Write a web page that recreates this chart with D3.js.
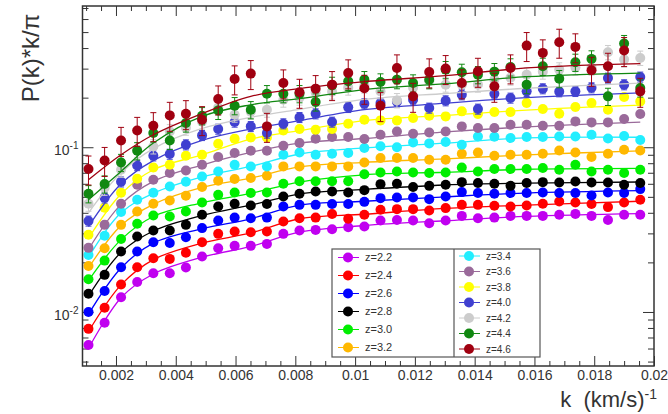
<!DOCTYPE html>
<html>
<head>
<meta charset="utf-8">
<script src="https://cdn.jsdelivr.net/npm/d3@7"></script>
<style>
body { margin: 0; background: #fff; }
text { font-family: "Liberation Sans", Arial, sans-serif; fill: #333; }
</style>
</head>
<body>
<svg id="chart" width="668" height="414"></svg>
<script>
// k bins (km/s)^-1
var kVals = [0.00108,0.00162,0.00217,0.00271,0.00325,0.00380,0.00434,0.00488,0.00542,0.00597,
             0.00651,0.00705,0.00760,0.00814,0.00868,0.00923,0.00977,0.01031,0.01085,0.01140,
             0.01194,0.01248,0.01303,0.01357,0.01411,0.01466,0.01520,0.01574,0.01628,0.01683,
             0.01737,0.01791,0.01846,0.01900,0.01954];

var zLabels = ['z=2.2','z=2.4','z=2.6','z=2.8','z=3.0','z=3.2','z=3.4','z=3.6','z=3.8','z=4.0','z=4.2','z=4.4','z=4.6'];
var colors  = ['#c000f0','#ff0000','#0000ff','#000000','#00ee00','#ffb800','#22eeff','#9a6a9a','#ffff00','#4040d0','#cccccc','#118811','#a00010'];

// P(k)*k/pi, one array per redshift
var p22 = [0.0063,0.0086,0.0123,0.0152,0.0172,0.0172,0.0186,0.0217,0.0244,0.0252,0.0252,0.0259,0.0298,0.0312,0.0315,0.0318,0.0327,0.0330,0.0359,0.0362,0.0359,0.0346,0.0359,0.0383,0.0371,0.0374,0.0383,0.0383,0.0383,0.0389,0.0394,0.0383,0.0362,0.0389,0.0389];
var p24 = [0.0079,0.0106,0.0147,0.0187,0.0212,0.0210,0.0229,0.0265,0.0298,0.0308,0.0305,0.0308,0.0354,0.0371,0.0374,0.0393,0.0368,0.0389,0.0417,0.0421,0.0421,0.0413,0.0427,0.0447,0.0447,0.0441,0.0437,0.0443,0.0454,0.0468,0.0462,0.0452,0.0433,0.0462,0.0480];
var p26 = [0.0100,0.0134,0.0187,0.0233,0.0265,0.0262,0.0284,0.0323,0.0359,0.0374,0.0371,0.0374,0.0437,0.0447,0.0447,0.0452,0.0452,0.0466,0.0491,0.0495,0.0495,0.0484,0.0502,0.0534,0.0527,0.0522,0.0527,0.0527,0.0531,0.0527,0.0527,0.0509,0.0531,0.0527,0.0557];
var p28 = [0.0129,0.0168,0.0233,0.0287,0.0312,0.0312,0.0338,0.0389,0.0437,0.0454,0.0443,0.0452,0.0502,0.0522,0.0539,0.0539,0.0531,0.0549,0.0597,0.0600,0.0573,0.0583,0.0592,0.0614,0.0606,0.0600,0.0583,0.0606,0.0614,0.0611,0.0620,0.0611,0.0611,0.0592,0.0606];
var p30 = [0.0158,0.0205,0.0277,0.0343,0.0385,0.0380,0.0407,0.0462,0.0514,0.0531,0.0527,0.0531,0.0600,0.0621,0.0621,0.0621,0.0621,0.0685,0.0703,0.0713,0.0703,0.0697,0.0703,0.0754,0.0713,0.0737,0.0737,0.0737,0.0748,0.0730,0.0783,0.0713,0.0730,0.0697,0.0730];
var p32 = [0.0190,0.0244,0.0338,0.0407,0.0454,0.0475,0.0507,0.0573,0.0626,0.0641,0.0650,0.0671,0.0765,0.0765,0.0765,0.0765,0.0765,0.0807,0.0860,0.0860,0.0860,0.0840,0.0840,0.0913,0.0930,0.0888,0.0900,0.0900,0.0913,0.0956,0.0930,0.0872,0.0913,0.0966,0.0956];
var p34 = [0.0222,0.0290,0.0404,0.0480,0.0529,0.0578,0.0617,0.0665,0.0713,0.0783,0.0764,0.0764,0.0900,0.0930,0.0900,0.0913,0.0922,0.0989,0.1014,0.1000,0.1070,0.1055,0.1077,0.1036,0.1163,0.1158,0.1137,0.1153,0.1153,0.1163,0.1163,0.1191,0.1129,0.1170,0.1106];
var p36 = [0.0245,0.0338,0.0454,0.0592,0.0635,0.0697,0.0723,0.0783,0.0872,0.0922,0.0952,0.0952,0.1021,0.1060,0.1126,0.1153,0.1153,0.1122,0.1191,0.1247,0.1208,0.1230,0.1247,0.1338,0.1308,0.1308,0.1370,0.1370,0.1351,0.1351,0.1435,0.1415,0.1415,0.1484,0.1591];
var p38 = [0.0294,0.0429,0.0529,0.0644,0.0754,0.0783,0.0888,0.0900,0.1050,0.1126,0.1147,0.1147,0.1265,0.1290,0.1278,0.1290,0.1390,0.1470,0.1455,0.1455,0.1505,0.1554,0.1539,0.1651,0.1591,0.1637,0.1637,0.1857,0.1707,0.1598,0.1755,0.1857,0.1690,0.2020,0.1898];
var p40 = [0.0357,0.0493,0.0617,0.0775,0.0888,0.0909,0.1036,0.1180,0.1290,0.1423,0.1338,0.1220,0.1390,0.1518,0.1598,0.1423,0.1746,0.1838,0.1857,0.1890,0.1944,0.1731,0.1917,0.2085,0.1707,0.2114,0.1991,0.2184,0.2268,0.2175,0.2184,0.2300,0.2634,0.2399,0.2672];
var p42 = [0.0454,0.0567,0.0730,0.0966,0.1011,0.1247,0.1314,0.1429,0.1739,0.1576,0.1644,0.1690,0.1944,0.2000,0.2145,0.2175,0.2300,0.2365,0.2184,0.1925,0.2300,0.2512,0.2399,0.2399,0.2399,0.2572,0.2645,0.2758,0.2877,0.2959,0.3043,0.3043,0.3770,0.3404,0.3485];
var p44 = [0.0522,0.0598,0.0808,0.0952,0.1220,0.1100,0.1403,0.1554,0.1674,0.1788,0.1690,0.2114,0.2114,0.2114,0.1883,0.2375,0.2512,0.2572,0.2491,0.2572,0.2456,0.2572,0.2959,0.2849,0.2758,0.2877,0.3073,0.2399,0.3099,0.2609,0.3278,0.3437,0.2036,0.4258,0.2290];
var p46 = [0.0737,0.0831,0.1100,0.1265,0.1351,0.1561,0.1598,0.1470,0.1963,0.2598,0.2798,0.1338,0.2456,0.2154,0.2268,0.2399,0.2826,0.2278,0.1788,0.3030,0.2036,0.2865,0.3001,0.2456,0.2889,0.2342,0.3030,0.4140,0.3738,0.4336,0.4066,0.2930,0.3099,0.3861,0.2184];

// relative error per redshift
var errFrac = [0.03,0.03,0.03,0.03,0.035,0.035,0.04,0.045,0.05,0.07,0.10,0.12,0.20];

// fitted model curves, read at a few k
var fitK = [0.00108,0.00217,0.00325,0.00488,0.00651,0.00814,0.01031,0.01303,0.01574,0.01954];
var f22 = [0.0060,0.0122,0.0170,0.0215,0.0250,0.0305,0.0335,0.0358,0.0380,0.0395];
var f24 = [0.0076,0.0146,0.0208,0.0262,0.0302,0.0368,0.0392,0.0425,0.0445,0.0470];
var f26 = [0.0097,0.0185,0.0262,0.0320,0.0368,0.0445,0.0470,0.0500,0.0527,0.0545];
var f28 = [0.0125,0.0230,0.0310,0.0385,0.0445,0.0520,0.0555,0.0590,0.0605,0.0615];
var f30 = [0.0155,0.0275,0.0380,0.0460,0.0525,0.0615,0.0680,0.0705,0.0735,0.0745];
var f32 = [0.0185,0.0335,0.0450,0.0570,0.0650,0.0760,0.0810,0.0850,0.0900,0.0950];
var f34 = [0.0215,0.0400,0.0525,0.0660,0.0765,0.0910,0.0990,0.1060,0.1140,0.1150];
var f36 = [0.0240,0.0450,0.0620,0.0780,0.0930,0.1060,0.1130,0.1240,0.1330,0.1420];
var f38 = [0.0280,0.0520,0.0730,0.0900,0.1120,0.1260,0.1450,0.1560,0.1680,0.1800];
var f40 = [0.0330,0.0600,0.0830,0.1100,0.1290,0.1450,0.1690,0.1850,0.2000,0.2140];
var f42 = [0.0400,0.0700,0.0980,0.1300,0.1520,0.1700,0.1950,0.2120,0.2280,0.2450];
var f44 = [0.0480,0.0713,0.1060,0.1540,0.1810,0.1970,0.2240,0.2430,0.2680,0.2820];
var f46 = [0.0635,0.0900,0.1190,0.1600,0.2036,0.2270,0.2500,0.2720,0.3030,0.3220];

var xMajor = [0.002,0.004,0.006,0.008,0.01,0.012,0.014,0.016,0.018,0.02];
var xLabels = ['0.002','0.004','0.006','0.008','0.01','0.012','0.014','0.016','0.018','0.02'];
var xMinor = [0.001,0.0015,0.0025,0.003,0.0035,0.0045,0.005,0.0055,0.0065,0.007,0.0075,0.0085,0.009,0.0095,
              0.0105,0.011,0.0115,0.0125,0.013,0.0135,0.0145,0.015,0.0155,0.0165,0.017,0.0175,0.0185,0.019,0.0195];
var yMajor = [0.01, 0.1];
var yMinor = [0.005,0.006,0.007,0.008,0.009,0.02,0.03,0.04,0.05,0.06,0.07,0.08,0.09,0.2,0.3,0.4,0.5,0.6,0.7];

var points = [p22,p24,p26,p28,p30,p32,p34,p36,p38,p40,p42,p44,p46];
var fits   = [f22,f24,f26,f28,f30,f32,f34,f36,f38,f40,f42,f44,f46];

var series = zLabels.map(function(z, i){
    return {label: z, color: colors[i], err: errFrac[i],
            pts: points[i].map(function(v, j){ return {k: kVals[j], v: v}; }),
            fit: fits[i].map(function(v, j){ return {k: fitK[j], v: v}; })};
});

var svg = d3.select('#chart');
var x = d3.scaleLinear().domain([0.00088, 0.02]).range([82.5, 654]);
var y = d3.scaleLog().domain([0.0047, 0.72]).range([366, 6]);

// axes, ticks pointing inwards on all four sides
var axes = svg.append('g').attr('class', 'axes');
axes.append('g').attr('transform', 'translate(0,366)')
    .call(d3.axisBottom(x).tickValues(xMajor).tickSize(-10).tickPadding(4)
          .tickFormat(function(d, i){ return xLabels[i]; }))
    .attr('class', 'x_axis');
axes.append('g').attr('transform', 'translate(0,366)')
    .call(d3.axisBottom(x).tickValues(xMinor).tickSize(-5).tickFormat(''));
axes.append('g').attr('transform', 'translate(0,6)')
    .call(d3.axisTop(x).tickValues(xMajor).tickSize(-10).tickFormat(''));
axes.append('g').attr('transform', 'translate(0,6)')
    .call(d3.axisTop(x).tickValues(xMinor).tickSize(-5).tickFormat(''));
axes.append('g').attr('transform', 'translate(82.5,0)')
    .call(d3.axisLeft(y).tickValues(yMajor).tickSize(-11).tickPadding(4))
    .attr('class', 'y_axis');
axes.append('g').attr('transform', 'translate(82.5,0)')
    .call(d3.axisLeft(y).tickValues(yMinor).tickSize(-6).tickFormat(''));
axes.append('g').attr('transform', 'translate(654,0)')
    .call(d3.axisRight(y).tickValues(yMajor).tickSize(-11).tickFormat(''));
axes.append('g').attr('transform', 'translate(654,0)')
    .call(d3.axisRight(y).tickValues(yMinor).tickSize(-6).tickFormat(''));
axes.selectAll('.domain').remove();
axes.selectAll('.tick line').attr('stroke', '#333').attr('stroke-width', 1);
axes.selectAll('.x_axis .tick text').style('font-size', '14px').attr('fill', '#333');
axes.selectAll('.y_axis .tick text').each(function(d){
    var t = d3.select(this).text(null).attr('dy', '0.55em').style('font-size', '14px').attr('fill', '#333');
    t.append('tspan').text('10');
    t.append('tspan').attr('dy', '-0.65em').style('font-size', '10px').text(String(Math.round(Math.log10(d))));
});

// data
var fitLine = d3.line().x(function(d){ return x(d.k); }).y(function(d){ return y(d.v); })
                .curve(d3.curveCatmullRom.alpha(0.5));
var plot = svg.append('g');
series.forEach(function(s){
    var g = plot.append('g');
    g.append('path').datum(s.fit).attr('d', fitLine)
        .attr('fill', 'none').attr('stroke', s.color).attr('stroke-width', 1.3);
    var eb = g.selectAll('g.err').data(s.pts).enter().append('g').attr('class', 'err')
        .attr('stroke', s.color).attr('stroke-width', 1);
    eb.append('line')
        .attr('x1', function(d){ return x(d.k); }).attr('x2', function(d){ return x(d.k); })
        .attr('y1', function(d){ return y(d.v * (1 + s.err)); })
        .attr('y2', function(d){ return y(d.v * (1 - s.err)); });
    eb.append('line')
        .attr('x1', function(d){ return x(d.k) - 3; }).attr('x2', function(d){ return x(d.k) + 3; })
        .attr('y1', function(d){ return y(d.v * (1 + s.err)); })
        .attr('y2', function(d){ return y(d.v * (1 + s.err)); });
    eb.append('line')
        .attr('x1', function(d){ return x(d.k) - 3; }).attr('x2', function(d){ return x(d.k) + 3; })
        .attr('y1', function(d){ return y(d.v * (1 - s.err)); })
        .attr('y2', function(d){ return y(d.v * (1 - s.err)); });
    g.selectAll('circle').data(s.pts).enter().append('circle')
        .attr('cx', function(d){ return x(d.k); })
        .attr('cy', function(d){ return y(d.v); })
        .attr('r', 5).attr('fill', s.color);
});

// frame
svg.append('rect').attr('x', 82.5).attr('y', 6).attr('width', 654 - 82.5).attr('height', 360)
    .attr('fill', 'none').attr('stroke', '#333').attr('stroke-width', 1.5);

// axis titles
svg.append('text').attr('transform', 'translate(39,58) rotate(-90)')
    .attr('text-anchor', 'middle').style('font-size', '24px').text('P(k)*k/\u03c0');
var xt = svg.append('text').attr('x', 657).attr('y', 407).attr('text-anchor', 'end').style('font-size', '22px');
xt.append('tspan').text('k\u00a0\u00a0(km/s)');
xt.append('tspan').attr('dy', '-0.6em').style('font-size', '14px').text('-1');

// legend, two columns
var legend = svg.append('g');
legend.append('rect').attr('x', 332).attr('y', 249).attr('width', 208).attr('height', 108)
    .attr('fill', '#fff').attr('stroke', '#555').attr('stroke-width', 1.2);
legend.append('line').attr('x1', 454).attr('x2', 454).attr('y1', 249).attr('y2', 357)
    .attr('stroke', '#555').attr('stroke-width', 1.2);
series.forEach(function(s, i){
    var col = i < 6 ? 0 : 1;
    var row = col === 0 ? i : i - 6;
    var cx = col === 0 ? 348 : 469;
    var cy = col === 0 ? 257.5 + row * 18 : 256 + row * 15.5;
    var e = legend.append('g');
    e.append('line').attr('x1', cx - 10).attr('x2', cx + 11).attr('y1', cy).attr('y2', cy)
        .attr('stroke', s.color).attr('stroke-width', 1);
    e.append('circle').attr('cx', cx).attr('cy', cy).attr('r', 5).attr('fill', s.color);
    e.append('text').attr('x', cx + 17).attr('y', cy).attr('dy', '0.35em')
        .style('font-size', col === 0 ? '11px' : '10px').text(s.label);
});
</script>
</body>
</html>
